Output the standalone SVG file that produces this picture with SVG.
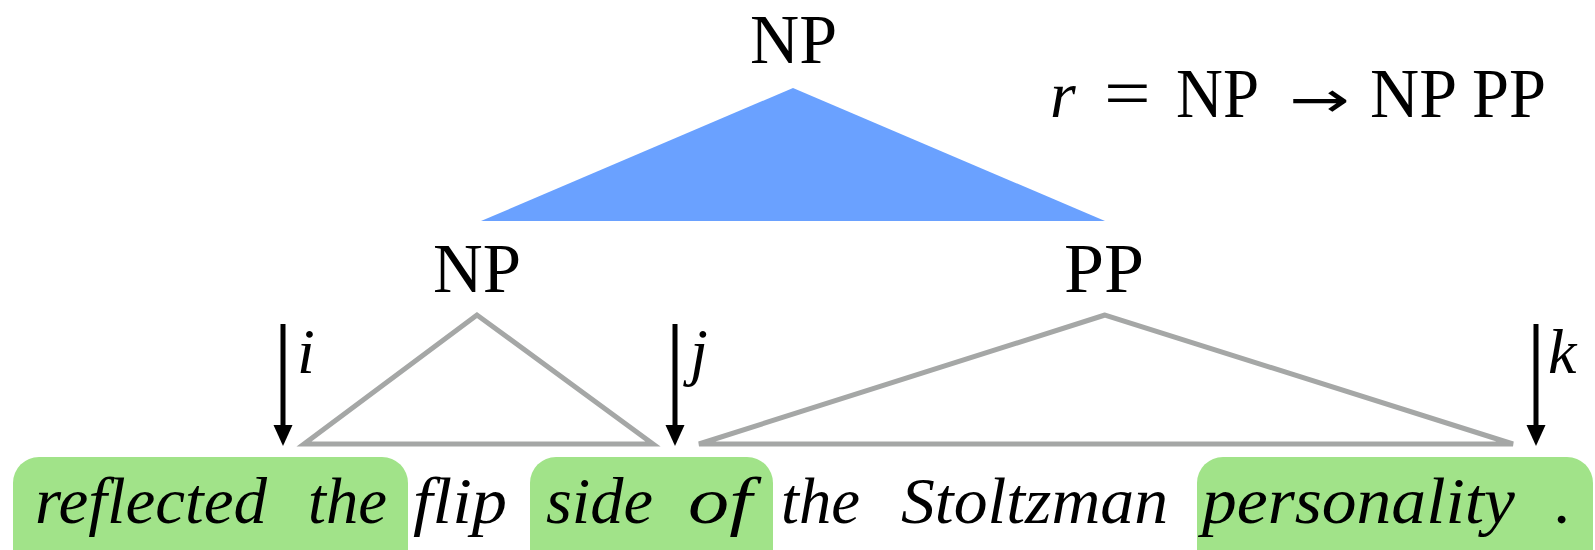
<svg xmlns="http://www.w3.org/2000/svg" width="1595" height="550" viewBox="0 0 1595 550">
<style>
.lbl{font-family:"Liberation Serif","Times New Roman",serif;font-size:69px;fill:#000}
.mi{font-family:"Liberation Serif","Times New Roman",serif;font-style:italic;fill:#000}
.w{font-family:"Liberation Serif","Times New Roman",serif;font-style:italic;font-size:66px;fill:#000}
.tri{fill:none;stroke:#a5a7a6;stroke-width:5;stroke-linejoin:miter}
.hl{fill:#a1e389}
.arr{stroke:#000;stroke-width:5}
</style>
<rect width="1595" height="550" fill="#fff"/>
<g id="highlights">
<rect class="hl" x="13" y="457" width="395" height="130" rx="26"/>
<rect class="hl" x="530" y="457" width="243" height="130" rx="26"/>
<rect class="hl" x="1197" y="457" width="396" height="130" rx="26"/>
</g>
<g id="node-root">
<text class="lbl" x="750" y="63" textLength="87" lengthAdjust="spacingAndGlyphs">NP</text>
</g>
<g id="rule">
<text class="mi" x="1050" y="117" font-size="66">r</text>
<text class="lbl" transform="translate(1104,117) scale(1.2,1)" font-size="68">=</text>
<text class="lbl" x="1176" y="117" font-size="68" textLength="83" lengthAdjust="spacingAndGlyphs">NP</text>
<text transform="translate(1289,117) scale(1.45,1)" font-family="DejaVu Sans,sans-serif" font-size="50" fill="#000">→</text>
<text class="lbl" x="1370" y="117" font-size="68" textLength="87" lengthAdjust="spacingAndGlyphs">NP</text>
<text class="lbl" x="1472" y="117" font-size="68" textLength="74" lengthAdjust="spacingAndGlyphs">PP</text>
</g>
<g id="node-np">
<text class="lbl" x="433" y="292" textLength="88" lengthAdjust="spacingAndGlyphs">NP</text>
</g>
<g id="node-pp">
<text class="lbl" x="1064" y="292" textLength="80" lengthAdjust="spacingAndGlyphs">PP</text>
</g>
<g id="connectors">
<polygon points="793,88 481,221 1105,221" fill="#6aa1ff"/>
<polygon class="tri" points="477,315 304,444 653,444"/>
<polygon class="tri" points="1105,315 699,444 1513,444"/>
<line class="arr" x1="283" y1="324" x2="283" y2="430"/>
<polygon points="273.5,425 292.5,425 283,446"/>
<line class="arr" x1="675" y1="324" x2="675" y2="430"/>
<polygon points="665.5,425 684.5,425 675,446"/>
<line class="arr" x1="1536" y1="324" x2="1536" y2="430"/>
<polygon points="1526.5,425 1545.5,425 1536,446"/>
</g>
<g id="indices">
<text class="mi" x="297" y="373" font-size="64">i</text>
<text class="mi" x="690" y="373" font-size="64">j</text>
<text class="mi" x="1548" y="373" font-size="64">k</text>
</g>
<g id="sentence">
<text class="w" x="35" y="523" textLength="232" lengthAdjust="spacingAndGlyphs">reflected</text>
<text class="w" x="308" y="523" textLength="79" lengthAdjust="spacingAndGlyphs">the</text>
<text class="w" x="413" y="523" textLength="94" lengthAdjust="spacingAndGlyphs">flip</text>
<text class="w" x="546" y="523" textLength="107" lengthAdjust="spacingAndGlyphs">side</text>
<text class="w" x="688" y="523" textLength="64" lengthAdjust="spacingAndGlyphs">of</text>
<text class="w" x="781" y="523" textLength="79" lengthAdjust="spacingAndGlyphs">the</text>
<text class="w" x="901" y="523" textLength="267" lengthAdjust="spacingAndGlyphs">Stoltzman</text>
<text class="w" x="1202" y="523" textLength="313" lengthAdjust="spacingAndGlyphs">personality</text>
<text class="w" x="1555" y="523">.</text>
</g>
</svg>
